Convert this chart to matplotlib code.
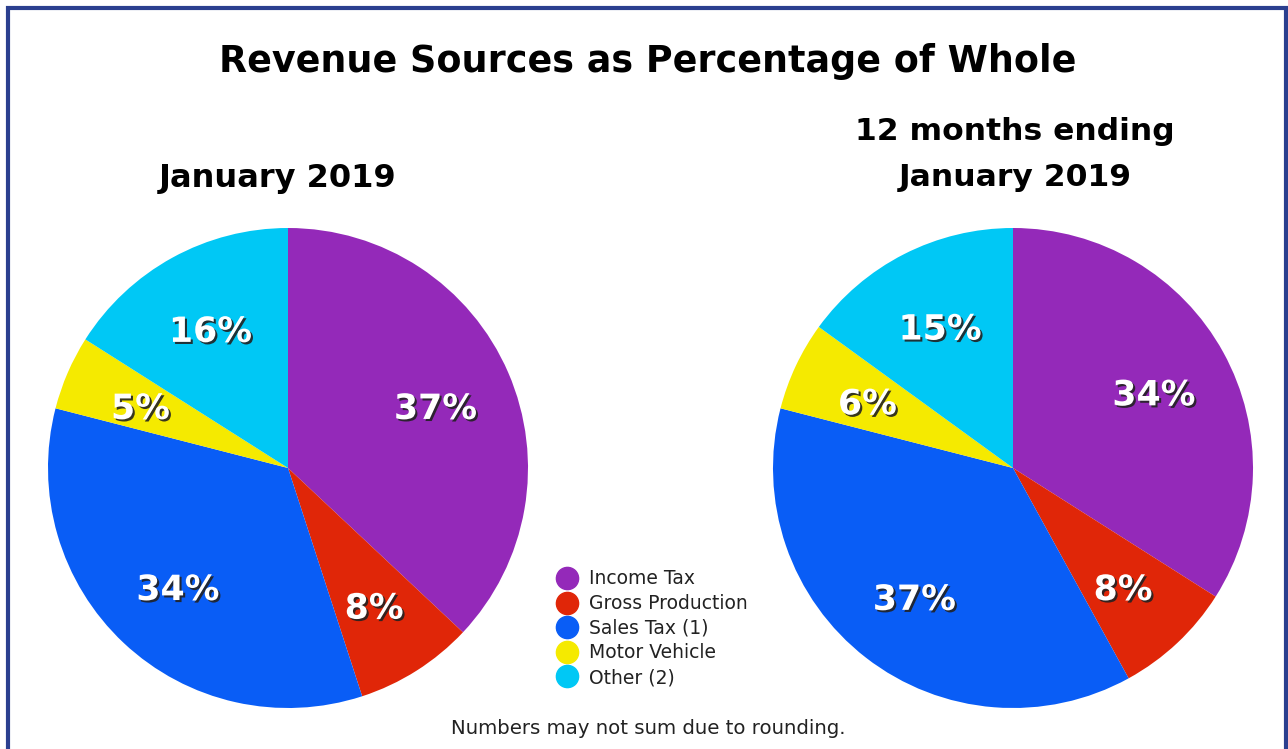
import matplotlib.pyplot as plt
import matplotlib.patheffects as pe
from matplotlib.lines import Line2D
from matplotlib.patches import Rectangle

# ------------------------------------------------------------
# Data
# ------------------------------------------------------------
categories = ["Income Tax", "Gross Production", "Sales Tax (1)", "Motor Vehicle", "Other (2)"]
jan_2019 = [37, 8, 34, 5, 16]
twelve_months = [34, 8, 37, 6, 15]
colors = ["#9429b9", "#e02608", "#095df6", "#f5ea00", "#00c8f5"]

W, H = 1288, 749
fig = plt.figure(figsize=(W / 100, H / 100), dpi=100)
plt.rcParams["font.family"] = ["DejaVu Sans"]

# dark blue frame round the whole figure
fig.patches.append(Rectangle((8 / W, -0.02), (W - 10) / W, (H - 8) / H + 0.02,
                             transform=fig.transFigure, fill=False,
                             edgecolor="#2b3f8f", linewidth=3))


def draw_pie(cx, cy, r, values):
    ax = fig.add_axes([(cx - r) / W, (H - cy - r) / H, 2 * r / W, 2 * r / H])
    wedges, texts, autotexts = ax.pie(
        values, colors=colors, startangle=90, counterclock=False,
        autopct="%d%%", pctdistance=0.67, radius=1.0,
        wedgeprops=dict(linewidth=0),
        textprops=dict(color="white", fontsize=25, fontweight="bold"))
    for t in autotexts:
        t.set_path_effects([pe.withSimplePatchShadow(offset=(1.5, -1.5),
                                                     shadow_rgbFace="#222222",
                                                     alpha=0.9)])
        x, y = t.get_position()
        t.set_position((x, y - 0.02))
    ax.set_xlim(-1, 1)
    ax.set_ylim(-1, 1)
    ax.set_aspect("equal")
    ax.axis("off")
    return ax


draw_pie(288, 468, 240, jan_2019)
draw_pie(1013, 468, 240, twelve_months)

fig.text(648 / W, 1 - 62 / H, "Revenue Sources as Percentage of Whole",
         ha="center", va="center", fontsize=26.3, fontweight="bold")
fig.text(278 / W, 1 - 178 / H, "January 2019",
         ha="center", va="center", fontsize=23, fontweight="bold")
fig.text(1015 / W, 1 - 132 / H, "12 months ending",
         ha="center", va="center", fontsize=22.6, fontweight="bold")
fig.text(1015 / W, 1 - 178 / H, "January 2019",
         ha="center", va="center", fontsize=22.6, fontweight="bold")

handles = [Line2D([], [], marker="o", linestyle="none", markersize=16,
                  markerfacecolor=c, markeredgecolor=c) for c in colors]
fig.legend(handles, categories, loc="upper left",
           bbox_to_anchor=(548 / W, 1 - 562 / H), frameon=False,
           fontsize=13.5, handletextpad=0.6, labelspacing=0.3,
           borderaxespad=0, handlelength=1.2, labelcolor="#222222")

fig.text(648 / W, 1 - 729 / H, "Numbers may not sum due to rounding.",
         ha="center", va="center", fontsize=14.2, color="#222222")

fig.savefig("out.png", dpi=100)
